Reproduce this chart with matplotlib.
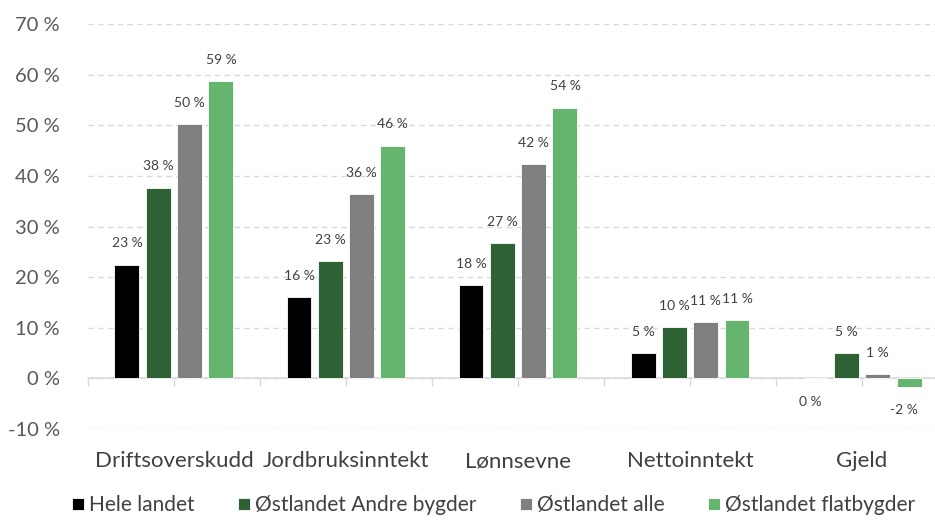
import numpy as np
import matplotlib
matplotlib.use("Agg")
import matplotlib.pyplot as plt
from matplotlib.transforms import blended_transform_factory

plt.rcParams['font.family'] = ['Lato', 'DejaVu Sans']

categories = ['Driftsoverskudd', 'Jordbruksinntekt', 'Lønnsevne', 'Nettoinntekt', 'Gjeld']
series = ['Hele landet', 'Østlandet Andre bygder', 'Østlandet alle', 'Østlandet flatbygder']
hele_landet = [22.5, 16.0, 18.4, 5.0, 0.0]
andre_bygder = [37.7, 23.2, 26.8, 10.1, 5.0]
ostlandet_alle = [50.2, 36.5, 42.3, 11.1, 0.9]
flatbygder = [58.8, 46.0, 53.5, 11.6, -1.7]
labels = [['23 %', '16 %', '18 %', '5 %', '0 %'],
          ['38 %', '23 %', '27 %', '10 %', '5 %'],
          ['50 %', '36 %', '42 %', '11 %', '1 %'],
          ['59 %', '46 %', '54 %', '11 %', '-2 %']]
yticks = [-10, 0, 10, 20, 30, 40, 50, 60, 70]

colors = ['#000000', '#2E6134', '#7F7F7F', '#66B56F']
values = [hele_landet, andre_bygder, ostlandet_alle, flatbygder]

fig = plt.figure(figsize=(9.35, 5.21), dpi=100)
ax = fig.add_axes([0.094, 0.1766, 0.92, 0.777])

x = np.arange(len(categories))
step = 0.182
width = 0.145
for i, (vals, col, name) in enumerate(zip(values, colors, series)):
    pos = x + (i - 1.5) * step
    ax.bar(pos, vals, width, color=col, edgecolor='white', linewidth=0.6, label=name, zorder=3)
    for p, v, lab in zip(pos, vals, labels[i]):
        if v > 0.5:
            ax.text(p, v + 3.0, lab, ha='center', va='bottom', fontsize=10, color='#404040')
        else:
            ax.text(p - 0.03, min(v, 0) - 3.4, lab, ha='center', va='top', fontsize=10, color='#404040')

ax.set_xlim(-0.5, len(categories) - 0.5)
ax.set_ylim(-10, 70)
ax.set_yticks(yticks)
ax.set_yticklabels([f'{t} %' for t in yticks], fontsize=14.5, color='#595959')
ax.yaxis.grid(True, linestyle=(0, (4, 3)), color='#D9D9D9', linewidth=1.0, zorder=0)
ax.tick_params(axis='y', length=0, pad=20)

# zero line with tick marks
for s in ['top', 'right', 'left']:
    ax.spines[s].set_visible(False)
ax.spines['bottom'].set_position(('data', 0))
ax.spines['bottom'].set_color('#D9D9D9')
ax.spines['bottom'].set_linewidth(1.2)
ax.spines['bottom'].set_zorder(2)
ax.set_xticks(np.arange(-0.5, len(categories), 0.5))
ax.set_xticklabels([])
ax.tick_params(axis='x', length=6, width=1.0, color='#D9D9D9', direction='out')

trans = blended_transform_factory(ax.transData, ax.transAxes)
for xi, cat in zip(x, categories):
    ax.text(xi, -0.055, cat, transform=trans, ha='center', va='top', fontsize=16, color='#404040')

fig.legend(loc='center', bbox_to_anchor=(0.528, 0.03), ncol=4, frameon=False,
           fontsize=15, handlelength=0.55, handleheight=0.55, handletextpad=0.25,
           columnspacing=2.1, labelcolor='#404040')

fig.savefig('out.png', dpi=100)
